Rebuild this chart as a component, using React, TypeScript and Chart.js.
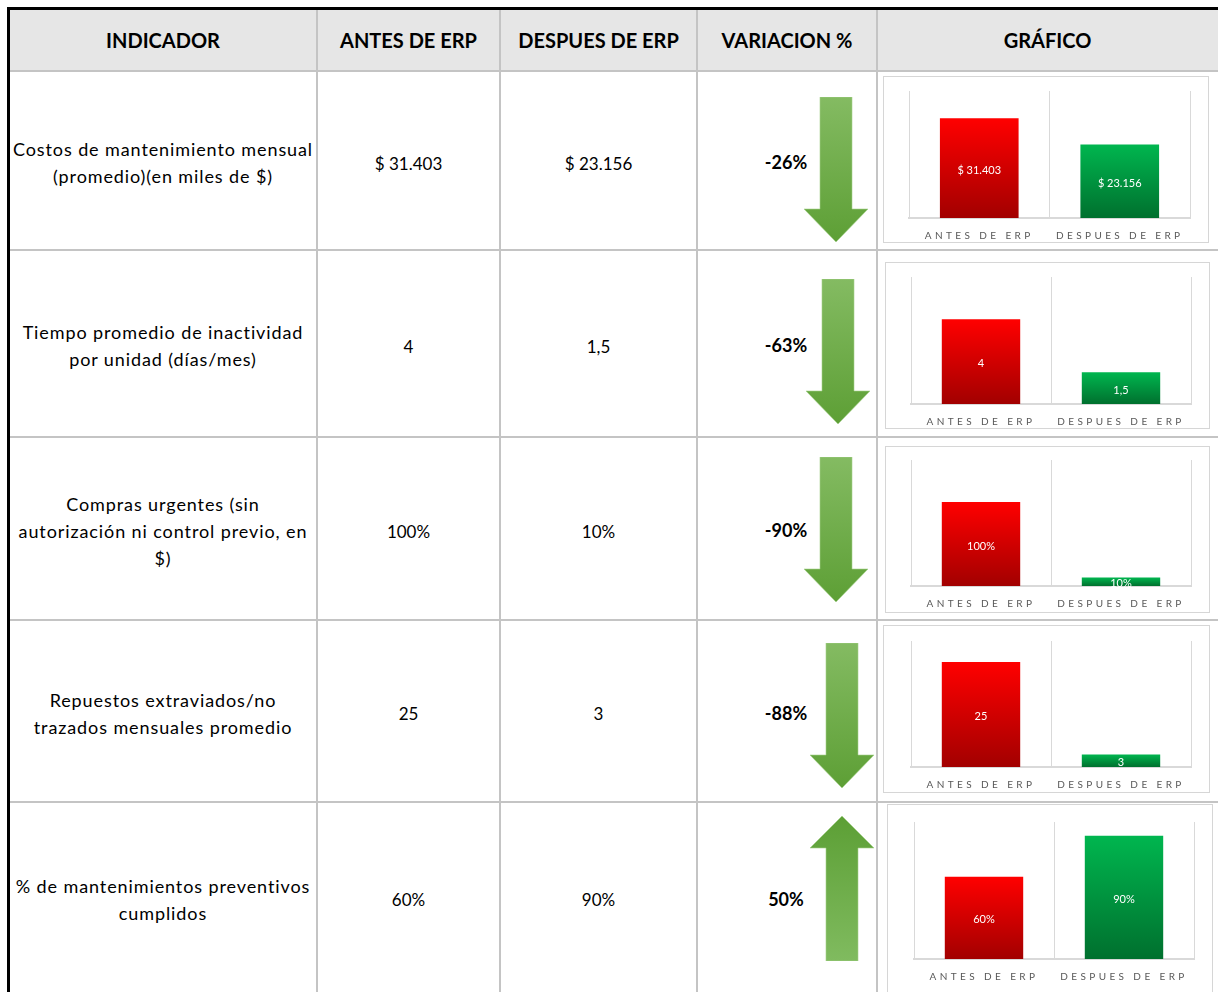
import React, { useEffect, useRef } from "react";
import { Chart, registerables } from "chart.js";

Chart.register(...registerables);

// ---------- data ----------
const headers = ["INDICADOR", "ANTES DE ERP", "DESPUES DE ERP", "VARIACION %", "GRÁFICO"];
const indicators = [
  "Costos de mantenimiento mensual\n(promedio)(en miles de $)",
  "Tiempo promedio de inactividad\npor unidad (días/mes)",
  "Compras urgentes (sin\nautorización ni control previo, en\n$)",
  "Repuestos extraviados/no\ntrazados mensuales promedio",
  "% de mantenimientos preventivos\ncumplidos",
];
const antesLabels = ["$ 31.403", "4", "100%", "25", "60%"];
const despuesLabels = ["$ 23.156", "1,5", "10%", "3", "90%"];
const antesValues = [31403, 4, 1.0, 25, 0.6];
const despuesValues = [23156, 1.5, 0.1, 3, 0.9];
const variaciones = ["-26%", "-63%", "-90%", "-88%", "50%"];
const axisMax = [40000, 6, 1.5, 30, 1];
const categories = ["ANTES DE ERP", "DESPUES DE ERP"];

// ---------- layout (styles only) ----------
const colEdges = [10, 317, 500, 697, 877, 1218];
const rowEdges = [10, 71, 250, 437, 620, 802, 992];
const vLines = [316, 499, 696, 876];
const hLines = [70, 249, 436, 619, 801];
const boxLayout = [
  { left: 883, top: 76, w: 326, h: 167, px0: 909, px1: 1190, py0: 91, py1: 218 },
  { left: 885, top: 262, w: 325, h: 167, px0: 911, px1: 1191, py0: 277, py1: 404 },
  { left: 885, top: 446, w: 325, h: 167, px0: 911, px1: 1191, py0: 460, py1: 586 },
  { left: 883, top: 625, w: 327, h: 168, px0: 911, px1: 1191, py0: 641, py1: 767 },
  { left: 887, top: 804, w: 326, h: 190, px0: 914, px1: 1194, py0: 822, py1: 959 },
];
const arrowLayout = [
  { left: 804, top: 97 },
  { left: 806, top: 279 },
  { left: 804, top: 457 },
  { left: 810, top: 643 },
  { left: 810, top: 816 },
];

const FONT = "Lato, 'Open Sans', sans-serif";
const AXIS_H = 24;

function MiniChart({ idx }: { idx: number }) {
  const ref = useRef<HTMLCanvasElement | null>(null);
  const b = boxLayout[idx];
  const cw = b.w - 2;
  const ch = b.h - 2;
  useEffect(() => {
    if (!ref.current) return;
    const labels = [antesLabels[idx], despuesLabels[idx]];
    const padLeft = b.px0 - (b.left + 1);
    const padRight = b.left + 1 + cw - b.px1;
    const padTop = b.py0 - (b.top + 1);
    const padBottom = Math.max(0, b.top + 1 + ch - b.py1 - AXIS_H);
    const colors = [
      ["#ff0000", "#a20000"],
      ["#00b64f", "#00702e"],
    ];
    const labelPlugin = {
      id: "barLabels" + idx,
      beforeDraw(chart: any) {
        (chart.ctx as any).letterSpacing = "3.4px";
      },
      afterDatasetsDraw(chart: any) {
        const ctx = chart.ctx;
        ctx.save();
        (ctx as any).letterSpacing = "0px";
        ctx.font = "11px " + FONT;
        ctx.fillStyle = "#ffffff";
        ctx.textAlign = "center";
        ctx.textBaseline = "middle";
        const meta = chart.getDatasetMeta(0);
        meta.data.forEach((el: any, i: number) => {
          const p = el.getProps(["x", "y", "base"], true);
          ctx.fillText(labels[i], p.x, (p.y + p.base) / 2 + 2);
        });
        ctx.restore();
      },
      afterDraw(chart: any) {
        (chart.ctx as any).letterSpacing = "0px";
      },
    };
    const chart = new Chart(ref.current, {
      type: "bar",
      data: {
        labels: categories,
        datasets: [
          {
            data: [antesValues[idx], despuesValues[idx]],
            backgroundColor: (c: any) => {
              const pair = colors[c.dataIndex === 0 ? 0 : 1];
              const chartObj = c.chart;
              if (!chartObj.chartArea || c.type !== "data" || !chartObj.scales.y) return pair[0];
              const ys = chartObj.scales.y;
              const y0 = ys.getPixelForValue(c.raw);
              const y1 = ys.getPixelForValue(0);
              if (!isFinite(y0) || !isFinite(y1) || y0 === y1) return pair[0];
              const g = chartObj.ctx.createLinearGradient(0, y0, 0, y1);
              g.addColorStop(0, pair[0]);
              g.addColorStop(1, pair[1]);
              return g;
            },
            borderWidth: 0,
            categoryPercentage: 1,
            barPercentage: 0.56,
          },
        ],
      },
      options: {
        animation: false,
        responsive: false,
        maintainAspectRatio: false,
        events: [],
        layout: { padding: { left: padLeft, right: padRight, top: padTop, bottom: padBottom } },
        plugins: { legend: { display: false }, tooltip: { enabled: false }, title: { display: false } },
        scales: {
          x: {
            grid: { display: true, offset: true, color: "#d9d9d9", lineWidth: 1, drawTicks: false },
            border: { display: true, color: "#d9d9d9", width: 2 },
            ticks: {
              padding: 12,
              color: "#595959",
              font: { family: FONT, size: 10 },
              maxRotation: 0,
              autoSkip: false,
            },
            afterFit: (scale: any) => {
              scale.height = AXIS_H;
            },
          },
          y: { display: false, min: 0, max: axisMax[idx] },
        },
      },
      plugins: [labelPlugin],
    });
    return () => chart.destroy();
  }, [idx]);
  return (
    <div
      style={{
        position: "absolute",
        left: b.left,
        top: b.top,
        width: b.w - 2,
        height: b.h - 2,
        border: "1px solid #d6d6d6",
        background: "#fff",
      }}
    >
      <canvas ref={ref} width={cw} height={ch} style={{ display: "block", width: cw, height: ch }} />
    </div>
  );
}

function Arrow({ idx, up }: { idx: number; up: boolean }) {
  const a = arrowLayout[idx];
  const gid = "ag" + idx;
  const pts = up
    ? "32,0 64,32 48,32 48,145 16,145 16,32 0,32"
    : "16,0 48,0 48,112 64,112 32,145 0,112 16,112";
  return (
    <svg
      width={64}
      height={145}
      viewBox="0 0 64 145"
      style={{ position: "absolute", left: a.left, top: a.top }}
    >
      <defs>
        <linearGradient id={gid} x1="0" y1="0" x2="0" y2="1">
          <stop offset="0" stopColor={up ? "#5c9f35" : "#84bb62"} />
          <stop offset="1" stopColor={up ? "#80bb5f" : "#5d9f35"} />
        </linearGradient>
      </defs>
      <polygon points={pts} fill={`url(#${gid})`} stroke="#a6d28b" strokeWidth={0.6} />
    </svg>
  );
}

function Cell({ col, row, children, style }: any) {
  const left = colEdges[col] + (col === 0 ? 0 : 1);
  const right = colEdges[col + 1] - 1;
  const top = rowEdges[row] + (row === 0 ? 0 : 1);
  const bottom = rowEdges[row + 1] - 1;
  return (
    <div
      style={{
        position: "absolute",
        left,
        top,
        width: right - left,
        height: bottom - top,
        boxSizing: "border-box",
        display: "flex",
        alignItems: "center",
        justifyContent: "center",
        textAlign: "center",
        ...style,
      }}
    >
      {children}
    </div>
  );
}

export default function App() {
  return (
    <div
      style={{
        position: "absolute",
        left: 0,
        top: 0,
        width: 1218,
        height: 992,
        overflow: "hidden",
        background: "#ffffff",
        fontFamily: FONT,
        color: "#000",
      }}
    >
      {/* header background */}
      <div style={{ position: "absolute", left: 10, top: 10, width: 1208, height: 60, background: "#e6e6e6" }} />
      {/* grid lines */}
      {vLines.map((x, i) => (
        <div key={"v" + i} style={{ position: "absolute", left: x, top: 10, width: 2, height: 982, background: "#c4c4c4" }} />
      ))}
      {hLines.map((y, i) => (
        <div key={"h" + i} style={{ position: "absolute", left: 10, top: y, width: 1208, height: 2, background: "#c4c4c4" }} />
      ))}
      {/* black outer borders */}
      <div style={{ position: "absolute", left: 7, top: 7, width: 1211, height: 3, background: "#000" }} />
      <div style={{ position: "absolute", left: 7, top: 7, width: 3, height: 985, background: "#000" }} />

      {headers.map((h, c) => (
        <Cell key={"hd" + c} col={c} row={0} style={{ fontWeight: 700, fontSize: 20 }}>
          {h}
        </Cell>
      ))}

      {indicators.map((_, r) => (
        <Arrow key={"a" + r} idx={r} up={!variaciones[r].startsWith("-")} />
      ))}

      {indicators.map((ind, r) => (
        <React.Fragment key={"r" + r}>
          <Cell col={0} row={r + 1} style={{ fontSize: 18, lineHeight: "27px", letterSpacing: "0.9px", paddingTop: 5 }}>
            <div>
              {ind.split("\n").map((ln, k) => (
                <div key={k}>{ln}</div>
              ))}
            </div>
          </Cell>
          <Cell col={1} row={r + 1} style={{ fontSize: 17, paddingTop: 5 }}>
            {antesLabels[r]}
          </Cell>
          <Cell col={2} row={r + 1} style={{ fontSize: 17, paddingTop: 5 }}>
            {despuesLabels[r]}
          </Cell>
          <Cell col={3} row={r + 1} style={{ fontSize: 18, fontWeight: 700, paddingTop: 3 }}>
            <div style={{ position: "absolute", left: 58, width: 60, textAlign: "center", zIndex: 2 }}>
              {variaciones[r]}
            </div>
          </Cell>
        </React.Fragment>
      ))}
      {indicators.map((_, r) => (
        <MiniChart key={"c" + r} idx={r} />
      ))}
    </div>
  );
}
